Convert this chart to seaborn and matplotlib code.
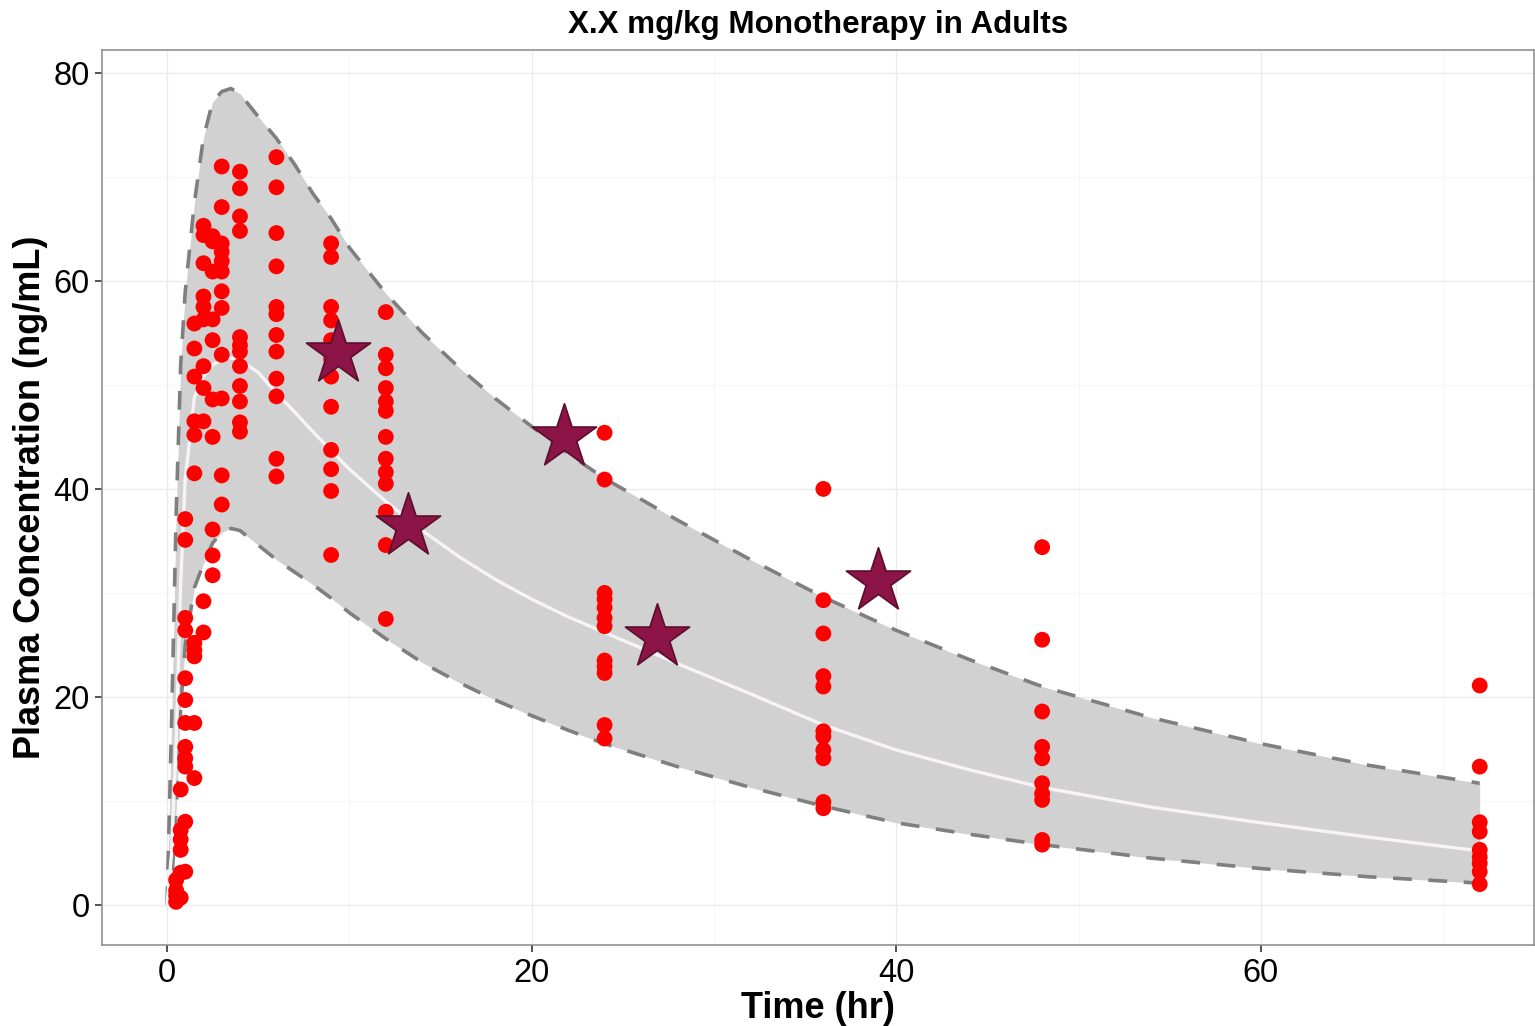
import numpy as np
import pandas as pd
import matplotlib
matplotlib.use("Agg")
import matplotlib.pyplot as plt
import seaborn as sns

# ---- simulated prediction band (5th / 50th / 95th percentiles) ----
band_time = [0, 0.25, 0.5, 0.75, 1, 1.5, 2, 2.5, 3, 3.5, 4, 5, 6, 7, 8, 9, 10,
             12, 14, 16, 18, 20, 22, 24, 28, 32, 36, 40, 44, 48, 54, 60, 66, 72]
band_upper = [0, 17.5, 37.5, 52.0, 59.0, 67.5, 73.8, 77.2, 78.2, 78.5, 78.0, 75.8,
              73.7, 71.2, 68.4, 66.0, 63.2, 58.8, 55.0, 51.7, 48.7, 46.0, 43.4,
              41.0, 37.0, 33.2, 29.6, 26.4, 23.6, 21.0, 18.0, 15.5, 13.4, 11.7]
band_median = [0, 5.0, 15.5, 31.0, 41.0, 48.8, 50.8, 51.9, 52.5, 52.6, 52.4, 51.2,
               49.2, 47.4, 45.5, 43.7, 41.9, 38.8, 36.0, 33.5, 31.3, 29.4, 27.7,
               26.2, 23.2, 20.3, 17.3, 14.9, 13.0, 11.3, 9.4, 7.9, 6.5, 5.2]
band_lower = [0, 2.0, 9.0, 19.0, 25.0, 30.5, 32.8, 34.8, 35.8, 36.2, 36.0, 34.6,
              33.2, 32.0, 30.8, 29.5, 28.1, 25.6, 23.3, 21.4, 19.7, 18.2, 16.8,
              15.5, 13.3, 11.3, 9.5, 7.9, 6.8, 5.8, 4.5, 3.5, 2.7, 2.1]

# ---- observed concentrations by nominal sampling time (hr) ----
conc_0_5h = [2.4, 1.4, 0.9, 0.3]
conc_0_75h = [11.1, 7.2, 6.3, 5.3, 3.1, 0.7]
conc_1h = [37.1, 35.1, 27.6, 26.4, 21.8, 19.7, 17.5, 15.2, 14.1, 13.3, 8.0, 3.2]
conc_1_5h = [55.9, 53.5, 50.8, 46.5, 45.2, 41.5, 25.2, 24.5, 23.9, 17.5, 12.2]
conc_2h = [65.3, 64.4, 61.7, 58.5, 57.5, 56.3, 51.8, 49.7, 46.5, 29.2, 26.2]
conc_2_5h = [64.3, 63.8, 60.9, 56.3, 54.3, 48.6, 45.0, 36.1, 33.6, 31.7]
conc_3h = [71.0, 67.1, 63.6, 62.8, 61.9, 60.9, 59.0, 57.4, 52.9, 48.7, 41.3, 38.5]
conc_4h = [70.5, 68.9, 66.2, 64.8, 54.6, 53.8, 53.2, 51.8, 49.9, 48.4, 46.4, 45.5]
conc_6h = [71.9, 69.0, 64.6, 61.4, 57.5, 56.8, 54.8, 53.2, 50.6, 48.9, 42.9, 41.2]
conc_9h = [63.6, 62.3, 57.5, 56.2, 54.3, 52.5, 50.8, 47.9, 43.75, 41.9, 39.8, 33.65]
conc_12h = [57.0, 52.9, 51.6, 49.7, 48.4, 47.5, 45.0, 42.9, 41.6, 40.5, 37.8, 34.6, 27.5]
conc_24h = [45.4, 40.9, 30.0, 29.4, 28.6, 27.6, 26.8, 23.5, 22.9, 22.3, 17.3, 16.0]
conc_36h = [40.0, 29.3, 26.1, 22.0, 21.0, 16.7, 16.2, 14.9, 14.1, 9.9, 9.3]
conc_48h = [34.4, 25.5, 18.6, 15.2, 14.1, 11.7, 10.7, 10.1, 6.25, 5.8]
conc_72h = [21.1, 13.3, 7.95, 7.05, 5.3, 4.6, 4.0, 3.2, 2.0]

sample_times = [0.5, 0.75, 1, 1.5, 2, 2.5, 3, 4, 6, 9, 12, 24, 36, 48, 72]
sample_concs = [conc_0_5h, conc_0_75h, conc_1h, conc_1_5h, conc_2h, conc_2_5h,
                conc_3h, conc_4h, conc_6h, conc_9h, conc_12h, conc_24h,
                conc_36h, conc_48h, conc_72h]

# ---- new study subjects overlaid on the band ----
new_time = [9.4, 13.2, 21.8, 26.85, 39.0]
new_conc = [53.1, 36.4, 45.0, 25.8, 31.1]

x_ticks = [0, 20, 40, 60]
y_ticks = [0, 20, 40, 60, 80]

obs = pd.DataFrame({
    "time": np.concatenate([[t] * len(c) for t, c in zip(sample_times, sample_concs)]),
    "conc": np.concatenate(sample_concs),
})
band = pd.DataFrame({"time": band_time, "upper": band_upper,
                     "median": band_median, "lower": band_lower})
new = pd.DataFrame({"time": new_time, "conc": new_conc})

sns.set_theme(style="white")
plt.rcParams["font.family"] = ["Liberation Sans", "DejaVu Sans"]
plt.rcParams["text.color"] = "black"
plt.rcParams["axes.labelcolor"] = "black"

W, H = 1535, 1026
fig = plt.figure(figsize=(W / 100, H / 100), dpi=100)
left, right, bottom, top = 102.3, 1533.5, 945, 50
ax = fig.add_axes([left / W, 1 - bottom / H, (right - left) / W, (bottom - top) / H])

# prediction interval
ax.fill_between(band["time"], band["lower"], band["upper"],
                color="#d1d1d1", linewidth=0, zorder=1)
dash = (0, (5.2, 4.6))
sns.lineplot(data=band, x="time", y="upper", ax=ax, color="#7f7f7f",
             linewidth=2.6, linestyle=dash, zorder=2)
sns.lineplot(data=band, x="time", y="lower", ax=ax, color="#7f7f7f",
             linewidth=2.6, linestyle=dash, zorder=2)
sns.lineplot(data=band, x="time", y="median", ax=ax, color="#f7f3f7",
             linewidth=2.4, zorder=2)

# observations
sns.scatterplot(data=obs, x="time", y="conc", ax=ax, color="#ff0000",
                s=130, edgecolor="none", linewidth=0, zorder=4)
sns.scatterplot(data=new, x="time", y="conc", ax=ax, marker="*", s=2350,
                color="#8c1446", edgecolor="#5e0f2e", linewidth=1.3, zorder=5)

ax.set_xlim(-3.55, 74.95)
ax.set_ylim(-3.85, 82.2)
ax.set_xticks(x_ticks)
ax.set_yticks(y_ticks)
ax.set_xticks([10, 30, 50, 70], minor=True)
ax.set_yticks([10, 30, 50, 70], minor=True)
ax.set_xticklabels([str(v) for v in x_ticks])
ax.set_yticklabels([str(v) for v in y_ticks])

ax.set_axisbelow(True)
ax.grid(which="major", color="#ebebeb", linewidth=1.0)
ax.grid(which="minor", color="#f5f5f5", linewidth=0.6)
ax.tick_params(which="major", direction="out", length=5, width=1.2,
               color="#333333", labelsize=23.5, labelcolor="black", pad=4,
               bottom=True, left=True)
ax.tick_params(which="minor", length=0)

for side in ["left", "bottom", "top", "right"]:
    ax.spines[side].set_visible(True)
    ax.spines[side].set_color("#888888")
    ax.spines[side].set_linewidth(1.1)

ax.set_xlabel("Time (hr)", fontsize=26, fontweight="bold", labelpad=2)
ax.set_ylabel("Plasma Concentration (ng/mL)", fontsize=26, fontweight="bold", labelpad=4)
ax.set_title("X.X mg/kg Monotherapy in Adults", fontsize=22.6, fontweight="bold", pad=12)

fig.savefig("out.png", dpi=100)
